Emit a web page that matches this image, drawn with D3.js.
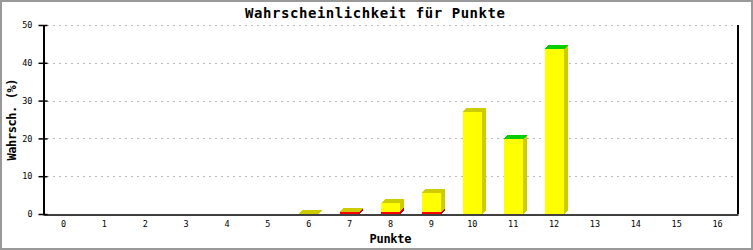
<!DOCTYPE html>
<html>
<head>
<meta charset="utf-8">
<script src="https://cdn.jsdelivr.net/npm/d3@7"></script>
<style>
  body { margin: 0; background: #fff; }
  text { font-family: "DejaVu Sans Mono", "Liberation Mono", monospace; }
</style>
</head>
<body>
<svg id="chart" width="753" height="250"></svg>
<script>
const width = 753
const height = 250

// points 0..16
const categories = d3.range(0, 17).map(String)
// stacked series (percent)
const redValues    = [0, 0, 0, 0, 0, 0, 0,   0.45, 0.6, 0.45, 0,    0,    0]
const yellowValues = [0, 0, 0, 0, 0, 0, 0.1, 0.1,  2.3, 5.15, 27.0, 19.8, 43.6]
const greenValues  = [0, 0, 0, 0, 0, 0, 0,   0,    0,   0,    0,    0.1,  0.1]
const yTicks = [0, 10, 20, 30, 40, 50]

const series = [
    {name: 'red', values: redValues, front: '#ff0000', dark: '#cc0000'},
    {name: 'yellow', values: yellowValues, front: '#ffff00', dark: '#cccc00'},
    {name: 'green', values: greenValues, front: '#00ff00', dark: '#00cc00'}
]

const margin = {top: 25, right: 15, bottom: 36, left: 43}
const depth = 4

const svg = d3.select('#chart')

// outer frame
svg.append('rect')
    .attr('x', 1).attr('y', 1)
    .attr('width', width - 2).attr('height', height - 2)
    .attr('fill', '#fff')
    .attr('stroke', '#999')
    .attr('stroke-width', 2)

const x = d3.scaleBand()
    .domain(categories)
    .range([margin.left, width - margin.right])

const y = d3.scaleLinear()
    .domain([0, 50])
    .range([height - margin.bottom, margin.top])

// gridlines
svg.append('g')
    .selectAll('line')
    .data(yTicks.filter(d => d > 0))
    .join('line')
    .attr('x1', margin.left + 4)
    .attr('x2', width - margin.right)
    .attr('y1', d => Math.round(y(d)) + 0.5)
    .attr('y2', d => Math.round(y(d)) + 0.5)
    .attr('stroke', '#bbb')
    .attr('stroke-dasharray', '2,4')

// bars (3d stacked)
const barW = 19
const bars = svg.append('g').attr('shape-rendering', 'crispEdges')
categories.forEach((c, i) => {
    let base = 0
    series.forEach(s => {
        const v = s.values[i] || 0
        if (v <= 0) return
        const x0 = Math.round(x(c) + (x.bandwidth() - barW) / 2)
        const x1 = x0 + barW
        const yb = y(base)
        const yt = y(base + v)
        // side
        bars.append('path')
            .attr('d', `M${x1},${yt}L${x1 + depth},${yt - depth}L${x1 + depth},${yb - depth}L${x1},${yb}Z`)
            .attr('fill', s.dark)
        // top
        bars.append('path')
            .attr('d', `M${x0},${yt}L${x0 + depth},${yt - depth}L${x1 + depth},${yt - depth}L${x1},${yt}Z`)
            .attr('fill', s.dark)
        // front
        bars.append('rect')
            .attr('x', x0).attr('y', yt)
            .attr('width', barW).attr('height', yb - yt)
            .attr('fill', s.front)
        base += v
    })
})

// axes
const yAxis = svg.append('g')
    .attr('transform', `translate(${margin.left + 0.5},0)`)
    .call(d3.axisLeft(y).tickValues(yTicks).tickSize(5).tickSizeOuter(0))
yAxis.select('.domain').attr('stroke', '#000').attr('stroke-width', 2)
yAxis.selectAll('.tick line').attr('x2', 4).attr('x1', -5).attr('stroke-width', 1.5)
yAxis.selectAll('.tick text')
    .attr('x', -11)
    .attr('font-size', 8.5)
    .attr('font-family', '"DejaVu Sans Mono", monospace')

const xAxis = svg.append('g')
    .attr('transform', `translate(0,${height - margin.bottom + 0.5})`)
    .call(d3.axisBottom(x).tickSize(0).tickSizeOuter(0))
xAxis.select('.domain').attr('stroke', '#000').attr('stroke-width', 1.5)
xAxis.selectAll('.tick text')
    .attr('y', 6)
    .attr('font-size', 8.5)
    .attr('font-family', '"DejaVu Sans Mono", monospace')

// right frame line
svg.append('line')
    .attr('x1', width - margin.right).attr('x2', width - margin.right)
    .attr('y1', margin.top).attr('y2', height - margin.bottom)
    .attr('stroke', '#000')
    .attr('stroke-width', 2)

// title and labels
svg.append('text')
    .attr('x', 375).attr('y', 18)
    .attr('text-anchor', 'middle')
    .attr('font-size', 14)
    .attr('font-weight', 'bold')
    .attr('textLength', 260)
    .attr('lengthAdjust', 'spacing')
    .text('Wahrscheinlichkeit für Punkte')

svg.append('text')
    .attr('x', (margin.left + width - margin.right) / 2)
    .attr('y', 243)
    .attr('text-anchor', 'middle')
    .attr('font-size', 12)
    .attr('font-weight', 'bold')
    .attr('textLength', 42)
    .attr('lengthAdjust', 'spacing')
    .text('Punkte')

svg.append('text')
    .attr('transform', `translate(16,${(margin.top + height - margin.bottom) / 2}) rotate(-90)`)
    .attr('text-anchor', 'middle')
    .attr('font-size', 12)
    .attr('font-weight', 'bold')
    .attr('textLength', 82)
    .attr('lengthAdjust', 'spacing')
    .text('Wahrsch. (%)')
</script>
</body>
</html>
